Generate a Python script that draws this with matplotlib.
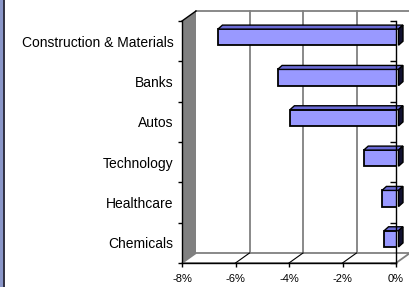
import matplotlib
matplotlib.use("Agg")
import matplotlib.pyplot as plt
from matplotlib.patches import Polygon, Rectangle
from matplotlib.lines import Line2D
from matplotlib.transforms import ScaledTranslation
import matplotlib.markers as mmarkers

plt.rcParams['font.family'] = ['Liberation Sans', 'DejaVu Sans']

# ---- data ----
categories = ["Construction & Materials", "Banks", "Autos", "Technology", "Healthcare", "Chemicals"]
values = [-6.75, -4.52, -4.06, -1.30, -0.62, -0.54]
xticks = [-8, -6, -4, -2, 0]
xtick_labels = ["-8%", "-6%", "-4%", "-2%", "0%"]

W, H = 409, 287
fig = plt.figure(figsize=(W / 100, H / 100), dpi=100)
fig.patch.set_facecolor("white")

# left border band
fig.patches.append(Rectangle((0, 0), 3.5 / W, 1, transform=fig.transFigure,
                             facecolor="#8a96c8", edgecolor="none", zorder=0))
fig.lines.append(Line2D([4 / W, 4 / W], [0, 1], transform=fig.transFigure,
                        color="#303040", lw=1.4))

ax = fig.add_axes([182 / W, (H - 263) / H, 214 / W, 242 / H])
xmin, xmax = -8, 0
n = len(categories)
ax.set_xlim(xmin, xmax)
ax.set_ylim(-0.5, n - 0.5)
ax.patch.set_alpha(0)

# pixel -> data conversion
pxx = (xmax - xmin) / 214.0
pxy = n / 242.0
wdx, wdy = 14 * pxx, 10 * pxy          # wall depth
grey = "#808080"
ylo, yhi = -0.5, n - 0.5

# back wall top edge + gridlines
ax.add_line(Line2D([xmin + wdx, xmax + wdx + 1], [yhi + wdy, yhi + wdy], color=grey,
                   lw=1.3, clip_on=False, zorder=1))
for t in xticks[1:]:
    ax.add_line(Line2D([t + wdx, t + wdx], [ylo + wdy, yhi + wdy], color=grey,
                       lw=1.3, clip_on=False, zorder=1))

# left wall
ax.add_patch(Polygon([(xmin, ylo), (xmin, yhi), (xmin + wdx, yhi + wdy), (xmin + wdx, ylo + wdy)],
                     closed=True, facecolor=grey, edgecolor="none", clip_on=False, zorder=1.5))
ax.add_line(Line2D([xmin, xmin + wdx], [yhi, yhi + wdy], color="black", lw=1.0,
                   clip_on=False, zorder=2))

# floor
ax.add_patch(Polygon([(xmin, ylo), (xmax, ylo), (xmax + wdx, ylo + wdy), (xmin + wdx, ylo + wdy)],
                     closed=True, facecolor="white", edgecolor=grey, lw=1.3,
                     clip_on=False, zorder=1.6))
for t in xticks[1:-1]:
    ax.add_line(Line2D([t, t + wdx], [ylo, ylo + wdy], color="black", lw=0.8,
                       clip_on=False, zorder=1.7))

# bars (slightly behind the front plane)
boff = ScaledTranslation(2.5 / 100, 4 / 100, fig.dpi_scale_trans)
btr = ax.transData + boff
bdx, bdy = 4.5 * pxx, 4.0 * pxy
bh = 0.4
ypos = [n - 1 - i for i in range(n)]
ax.barh(ypos, values, height=bh, color="#9999ff", edgecolor="black", linewidth=1.3,
        transform=btr, zorder=3)
for y, v in zip(ypos, values):
    top = [(v, y + bh / 2), (0, y + bh / 2), (bdx, y + bh / 2 + bdy), (v + bdx, y + bh / 2 + bdy)]
    ax.add_patch(Polygon(top, closed=True, facecolor="#6b6bd6", edgecolor="black", lw=1.0,
                         transform=btr, zorder=3.1, clip_on=False))
    side = [(0, y - bh / 2), (0, y + bh / 2), (bdx, y + bh / 2 + bdy), (bdx, y - bh / 2 + bdy)]
    ax.add_patch(Polygon(side, closed=True, facecolor="#101030", edgecolor="black", lw=1.0,
                         transform=btr, zorder=3.1, clip_on=False))

# spines
ax.spines["top"].set_visible(False)
for s in ["left", "bottom", "right"]:
    ax.spines[s].set_color("black")
    ax.spines[s].set_linewidth(1.0)
ax.spines["right"].set_zorder(6)

# x axis
ax.set_xticks(xticks)
ax.set_xticklabels(xtick_labels, fontsize=8)
ax.tick_params(axis="x", direction="out", length=3, width=1, pad=5, colors="black")

# y axis
ax.set_yticks(ypos)
ax.set_yticklabels(categories, fontsize=10)
ax.tick_params(axis="y", which="major", length=0, pad=6)
bounds = [i - 0.5 for i in range(n + 1)]
ax.set_yticks(bounds, minor=True)
ax.tick_params(axis="y", which="minor", direction="out", length=3, width=1, left=True, right=False)
ax.add_line(Line2D([0] * len(bounds), bounds, linestyle="none", marker=mmarkers.TICKLEFT,
                   markersize=4.5, markeredgewidth=1.0, color="black", zorder=6, clip_on=False))

fig.savefig("out.png", dpi=100)
